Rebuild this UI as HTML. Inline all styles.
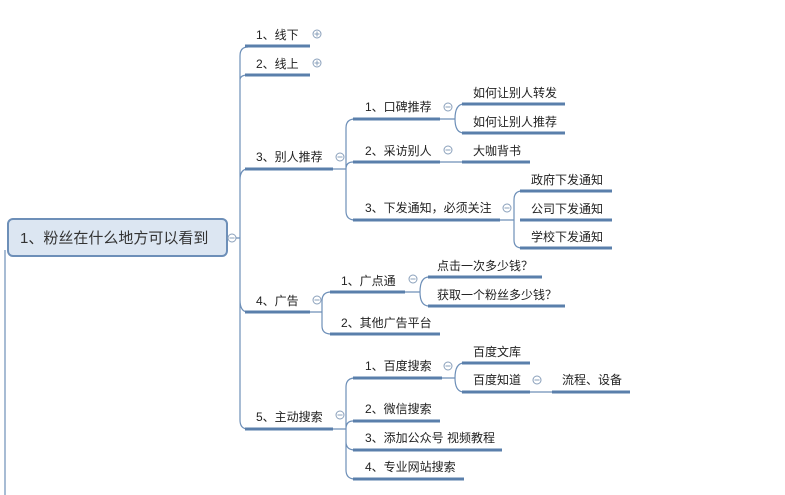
<!DOCTYPE html>
<html><head><meta charset="utf-8"><style>
html,body{margin:0;padding:0;background:#fff;}
svg{display:block;}
text{font-family:"Liberation Sans","Noto Sans CJK SC",sans-serif;font-size:12px;fill:#222;}
.u{stroke:#5a7fab;stroke-width:3;fill:none;}
.c{stroke:#6d8fb8;stroke-width:1.2;fill:none;}
.k{stroke:#8aa0bb;stroke-width:1;fill:#fff;}
.m{stroke:#8aa0bb;stroke-width:1;}
</style></head><body>
<svg width="785" height="495" viewBox="0 0 785 495">
<!-- root -->
<line x1="5" y1="250" x2="5" y2="495" class="c"/>
<rect x="8" y="219" width="219" height="37" rx="5" fill="#dce6f2" stroke="#6d8fb8" stroke-width="2"/>
<text x="20" y="243" style="font-size:15px;fill:#333">1、粉丝在什么地方可以看到</text>
<circle cx="232" cy="238" r="4" class="k"/><line x1="229.5" y1="238" x2="234.5" y2="238" class="m"/>
<!-- trunk -->
<path class="c" d="M236 238 H240 M240 238 V56 Q240 47 248 47 M240 80 Q240 75 248 75 M240 180 Q240 169 248 169 M240 238 V420 Q240 429 248 429 M240 300 Q240 312 248 312"/>
<!-- level 1 -->
<line x1="245" y1="46" x2="310" y2="46" class="u"/><text x="256" y="39">1、线下</text>
<line x1="245" y1="75" x2="310" y2="75" class="u"/><text x="256" y="68">2、线上</text>
<line x1="245" y1="169" x2="333" y2="169" class="u"/><text x="256" y="161">3、别人推荐</text>
<line x1="245" y1="312" x2="310" y2="312" class="u"/><text x="256" y="305">4、广告</text>
<line x1="245" y1="429" x2="333" y2="429" class="u"/><text x="256" y="421">5、主动搜索</text>
<g>
<circle cx="317" cy="34" r="4" class="k"/><line x1="314.5" y1="34" x2="319.5" y2="34" class="m"/><line x1="317" y1="31.5" x2="317" y2="36.5" class="m"/>
<circle cx="317" cy="63" r="4" class="k"/><line x1="314.5" y1="63" x2="319.5" y2="63" class="m"/><line x1="317" y1="60.5" x2="317" y2="65.5" class="m"/>
<circle cx="340" cy="157" r="4" class="k"/><line x1="337.5" y1="157" x2="342.5" y2="157" class="m"/>
<circle cx="317" cy="300" r="4" class="k"/><line x1="314.5" y1="300" x2="319.5" y2="300" class="m"/>
<circle cx="340" cy="415" r="4" class="k"/><line x1="337.5" y1="415" x2="342.5" y2="415" class="m"/>
</g>
<!-- sub 3 -->
<path class="c" d="M333 169 H346 M346 169 V128 Q346 119 355 119 M346 169 Q346 162 353 162 M346 169 V211 Q346 220 355 220"/>
<line x1="353" y1="119" x2="440" y2="119" class="u"/><text x="365" y="111">1、口碑推荐</text>
<line x1="353" y1="162" x2="440" y2="162" class="u"/><text x="365" y="155">2、采访别人</text>
<line x1="353" y1="220" x2="500" y2="220" class="u"/><text x="365" y="212">3、下发通知，必须关注</text>
<circle cx="448" cy="107" r="4" class="k"/><line x1="445.5" y1="107" x2="450.5" y2="107" class="m"/>
<circle cx="448" cy="150" r="4" class="k"/><line x1="445.5" y1="150" x2="450.5" y2="150" class="m"/>
<circle cx="507" cy="208" r="4" class="k"/><line x1="504.5" y1="208" x2="509.5" y2="208" class="m"/>
<path class="c" d="M440 119 H455 M455 119 Q455 104 464 104 M455 119 Q455 133 464 133 M440 162 H462 M500 220 H514 M514 220 V200 Q514 191 522 191 M514 220 V240 Q514 248 522 248"/>
<line x1="462" y1="104" x2="565" y2="104" class="u"/><text x="473" y="97">如何让别人转发</text>
<line x1="462" y1="133" x2="565" y2="133" class="u"/><text x="473" y="126">如何让别人推荐</text>
<line x1="462" y1="162" x2="530" y2="162" class="u"/><text x="473" y="155">大咖背书</text>
<line x1="520" y1="191" x2="612" y2="191" class="u"/><text x="531" y="184">政府下发通知</text>
<line x1="520" y1="220" x2="612" y2="220" class="u"/><text x="531" y="213">公司下发通知</text>
<line x1="520" y1="248" x2="612" y2="248" class="u"/><text x="531" y="241">学校下发通知</text>
<!-- sub 4 -->
<path class="c" d="M310 312 H322 M322 312 V301 Q322 292 331 292 M322 312 V326 Q322 334 331 334"/>
<line x1="330" y1="292" x2="405" y2="292" class="u"/><text x="341" y="285">1、广点通</text>
<line x1="330" y1="334" x2="440" y2="334" class="u"/><text x="341" y="327">2、其他广告平台</text>
<circle cx="413" cy="279" r="4" class="k"/><line x1="410.5" y1="279" x2="415.5" y2="279" class="m"/>
<path class="c" d="M405 292 H420 M420 292 Q420 277 429 277 M420 292 Q420 306 429 306"/>
<line x1="428" y1="277" x2="542" y2="277" class="u"/><text x="437" y="270">点击一次多少钱？</text>
<line x1="428" y1="306" x2="565" y2="306" class="u"/><text x="437" y="299">获取一个粉丝多少钱？</text>
<!-- sub 5 -->
<path class="c" d="M333 429 H346 M346 429 V387 Q346 378 355 378 M346 429 Q346 421 353 421 M346 429 V442 Q346 450 355 450 M346 429 V470 Q346 479 355 479"/>
<line x1="353" y1="378" x2="442" y2="378" class="u"/><text x="365" y="370">1、百度搜索</text>
<line x1="353" y1="421" x2="440" y2="421" class="u"/><text x="365" y="413">2、微信搜索</text>
<line x1="353" y1="450" x2="502" y2="450" class="u"/><text x="365" y="442">3、添加公众号 视频教程</text>
<line x1="353" y1="479" x2="464" y2="479" class="u"/><text x="365" y="471">4、专业网站搜索</text>
<circle cx="448" cy="366" r="4" class="k"/><line x1="445.5" y1="366" x2="450.5" y2="366" class="m"/>
<path class="c" d="M442 378 H455 M455 378 Q455 363 464 363 M455 378 Q455 392 464 392 M530 392 H552"/>
<line x1="462" y1="363" x2="530" y2="363" class="u"/><text x="473" y="356">百度文库</text>
<line x1="462" y1="392" x2="530" y2="392" class="u"/><text x="473" y="384">百度知道</text>
<circle cx="537" cy="380" r="4" class="k"/><line x1="534.5" y1="380" x2="539.5" y2="380" class="m"/>
<line x1="552" y1="392" x2="630" y2="392" class="u"/><text x="562" y="384">流程、设备</text>
</svg>
</body></html>
